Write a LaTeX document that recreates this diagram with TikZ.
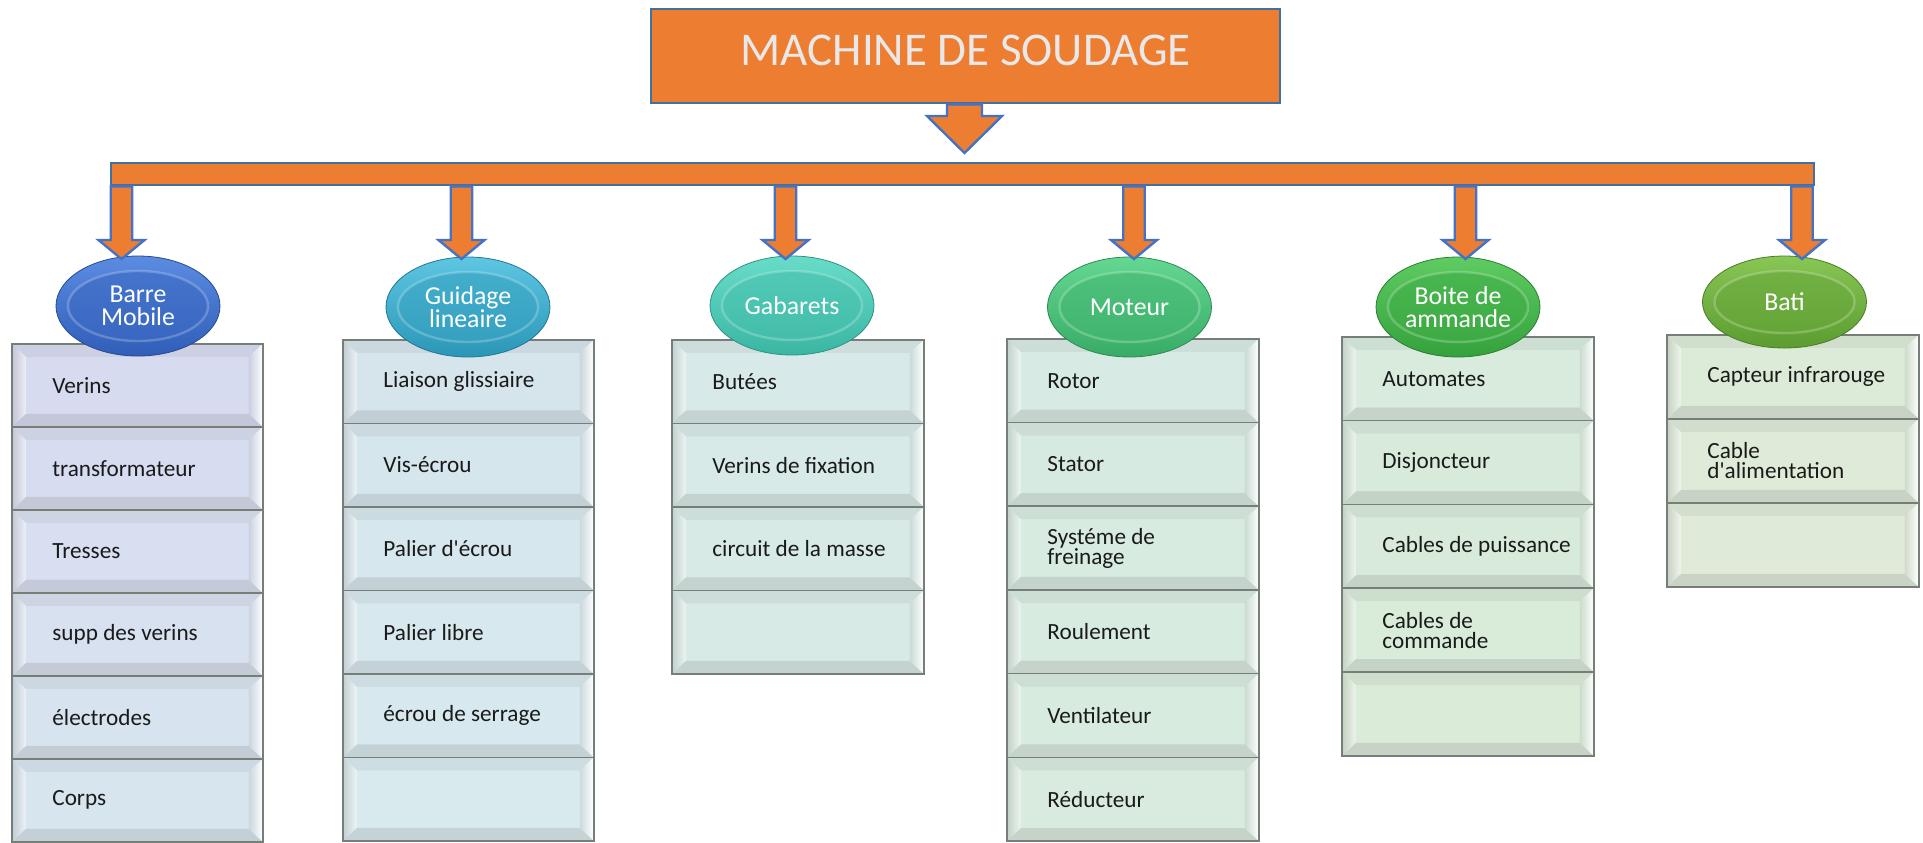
\documentclass[tikz,border=0pt]{standalone}
\usepackage{fontspec}
\setmainfont{Carlito}
\usetikzlibrary{shapes.geometric,calc}
\definecolor{orng}{HTML}{ED7D31}
\definecolor{oline}{HTML}{41719C}
\definecolor{aline}{HTML}{4472C4}
\definecolor{boxline}{HTML}{767E78}
\definecolor{titletext}{HTML}{E8E8E8}
\definecolor{itemc}{HTML}{1A1A1A}
\definecolor{rowc}{HTML}{D7DBF0}
\definecolor{bAt}{HTML}{5C8CE2}\definecolor{bAb}{HTML}{2F5DB8}
\definecolor{bBt}{HTML}{5EC6E3}\definecolor{bBb}{HTML}{2A96B6}
\definecolor{bCt}{HTML}{68DCC9}\definecolor{bCb}{HTML}{3AB6A3}
\definecolor{bDt}{HTML}{64D892}\definecolor{bDb}{HTML}{38AC66}
\definecolor{bEt}{HTML}{5ECC62}\definecolor{bEb}{HTML}{34A13C}
\definecolor{bFt}{HTML}{88C655}\definecolor{bFb}{HTML}{5C9C30}
\tikzset{
  rowbox/.style={rectangle, anchor=north west, inner sep=0pt, fill=rowc, draw=boxline, line width=0.8pt,
    path picture={
      \coordinate (pnw) at (path picture bounding box.north west);
      \coordinate (pne) at (path picture bounding box.north east);
      \coordinate (psw) at (path picture bounding box.south west);
      \coordinate (pse) at (path picture bounding box.south east);
      \fill[rowc!88!gray] (pnw) -- (pne) -- ([shift={(-7pt,-6.5pt)}]pne) -- ([shift={(7pt,-6.5pt)}]pnw) -- cycle;
      \fill[rowc!78!gray] (psw) -- (pse) -- ([shift={(-7pt,6.5pt)}]pse) -- ([shift={(7pt,6.5pt)}]psw) -- cycle;
      \shade[left color=rowc!75!gray, right color=white!50!rowc] (pnw) -- ([shift={(7pt,-6.5pt)}]pnw) -- ([shift={(7pt,6.5pt)}]psw) -- (psw) -- cycle;
      \shade[left color=rowc!85!gray, right color=white] (pne) -- ([shift={(-7pt,-6.5pt)}]pne) -- ([shift={(-7pt,6.5pt)}]pse) -- (pse) -- cycle;
    }},
  itemtext/.style={anchor=west, align=left, inner sep=0pt, text=itemc, font=\fontsize{11.6}{10}\selectfont},
  bubble/.style 2 args={ellipse, inner sep=0pt, top color=#1, bottom color=#2, draw=#2!80!black, line width=0.4pt,
    text=white, align=center, font=\fontsize{12.9}{11.3}\selectfont, minimum width=164*0.5pt,
    path picture={
      \draw[line width=1.2pt, draw=white, draw opacity=0.22, top color=#1!55!#2, bottom color=#2!85!#1]
        let \p1=($(path picture bounding box.north east)-(path picture bounding box.center)$) in
        (path picture bounding box.center) ellipse [x radius=\x1-6pt, y radius=\y1-7.5pt];
    }},
  fatarrow/.style={fill=orng, draw=aline, line width=1.2pt, line join=miter},
  orangebox/.style={fill=orng, draw=oline, line width=1.2pt, anchor=north west, inner sep=0pt, rectangle}
}
\newcommand\rowitem[7]{%
  \definecolor{rowc}{HTML}{#6}%
  \node[rowbox, minimum width=#4*0.5pt, minimum height=#5*0.5pt] (#1) at (#2,#3) {};
  \node[itemtext] (#1t) at ([xshift=20.5pt]#1.west) {#7};
}
\newcommand\brancharrow[1]{%
  \draw[fatarrow] (#1) -- ++(-23,-19) -- ++(12.25,0) -- ($(#1 |- bar.south)+(-10.75,0)$)
    -- ($(#1 |- bar.south)+(10.75,0)$) -- ($(#1)+(10.75,-19)$) -- ($(#1)+(23,-19)$) -- cycle;
}
\begin{document}
\begin{tikzpicture}[x=0.5pt,y=-0.5pt]
\fill[white] (0,0) rectangle (1923,842);
\useasboundingbox (0,0) rectangle (1923,842);

% column 1 : Barre Mobile
\rowitem{a1}{11}{343}{251}{83}{D7DBF0}{Verins}
\rowitem{a2}{11}{426}{251}{83}{D7DDF0}{transformateur}
\rowitem{a3}{11}{509}{251}{83}{D7DFF0}{Tresses}
\rowitem{a4}{11}{592}{251}{83}{D7E1F0}{supp des verins}
\rowitem{a5}{11}{675}{251}{83}{D7E3EF}{électrodes}
\rowitem{a6}{11}{758}{251}{83}{D7E5EF}{Corps}
% column 2 : Guidage lineaire
\rowitem{b1}{342}{339}{251}{83.5}{D6E4EC}{Liaison glissiaire}
\rowitem{b2}{342}{422.5}{251}{83.5}{D6E6ED}{Vis-écrou}
\rowitem{b3}{342}{506}{251}{83.5}{D6E7ED}{Palier d\textquotesingle écrou}
\rowitem{b4}{342}{589.5}{251}{83.5}{D7E8EE}{Palier libre}
\rowitem{b5}{342}{673}{251}{83.5}{D7E9EE}{écrou de serrage}
\rowitem{b6}{342}{756.5}{251}{83.5}{D8EAEE}{}
% column 3 : Gabarets
\rowitem{c1}{671}{339}{252}{83.5}{D7EAE9}{Butées}
\rowitem{c2}{671}{422.5}{252}{83.5}{D7EAE7}{Verins de fixation}
\rowitem{c3}{671}{506}{252}{83.5}{D7EAE6}{circuit de la masse}
\rowitem{c4}{671}{589.5}{252}{83.5}{D7EAE5}{}
% column 4 : Moteur
\rowitem{d1}{1006}{338}{252}{83.7}{D7EAE3}{Rotor}
\rowitem{d2}{1006}{421.7}{252}{83.7}{D7EAE2}{Stator}
\rowitem{d3}{1006}{505.4}{252}{83.7}{D7EBE1}{Systéme de\\freinage}
\rowitem{d4}{1006}{589.1}{252}{83.7}{D8EBE0}{Roulement}
\rowitem{d5}{1006}{672.8}{252}{83.7}{D8EBDF}{Ventilateur}
\rowitem{d6}{1006}{756.5}{252}{83.7}{D8EBDE}{Réducteur}
% column 5 : Boite de ammande
\rowitem{e1r}{1341}{336}{252}{83.8}{D8EBDD}{Automates}
\rowitem{e2r}{1341}{419.8}{252}{83.8}{D8EBDB}{Disjoncteur}
\rowitem{e3r}{1341}{503.6}{252}{83.8}{D8EBDA}{Cables de puissance}
\rowitem{e4r}{1341}{587.4}{252}{83.8}{D9EBD9}{Cables de\\commande}
\rowitem{e5r}{1341}{671.2}{252}{83.8}{DAEBD8}{}
% column 6 : Bati
\rowitem{f1}{1666}{334}{252}{84}{DCEBD8}{Capteur infrarouge}
\rowitem{f2}{1666}{418}{252}{84}{DDEBD8}{Cable\\d\textquotesingle alimentation}
\rowitem{f3}{1666}{502}{252}{84}{DFEBD8}{}

% category ellipses
\node[bubble={bAt}{bAb}, minimum height=100*0.5pt] (ba) at (138,306) {Barre\\Mobile};
\node[bubble={bBt}{bBb}, minimum height=100*0.5pt] (bb) at (468,307) {Guidage\\lineaire};
\node[bubble={bCt}{bCb}, minimum height=99*0.5pt] (bc) at (792,305.5) {Gabarets};
\node[bubble={bDt}{bDb}, minimum height=100*0.5pt] (bd) at (1129.5,307) {Moteur};
\node[bubble={bEt}{bEb}, minimum height=100*0.5pt] (be) at (1458,307) {Boite de\\ammande};
\node[bubble={bFt}{bFb}, minimum height=92*0.5pt] (bf) at (1784.5,302) {Bati};

% title, bar and arrows
\node[orangebox, minimum width=629*0.5pt, minimum height=94*0.5pt, text=titletext,
      font=\fontsize{23.5}{28}\selectfont, text depth=6pt] (title) at (650,8) {MACHINE DE SOUDAGE};
\node[orangebox, minimum width=1702.5*0.5pt, minimum height=22*0.5pt] (bar) at (110,162) {};
\coordinate (ttip) at (964.5,153);
\draw[fatarrow] (ttip) -- ++(-37.5,-37) -- ++(20,0) -- ($(ttip |- title.south)+(-17.5,0)$)
  -- ($(ttip |- title.south)+(17.5,0)$) -- ($(ttip)+(17.5,-37)$) -- ($(ttip)+(37.5,-37)$) -- cycle;
\coordinate (t1) at (121.5,259);
\coordinate (t2) at (461.5,259);
\coordinate (t3) at (785.5,259);
\coordinate (t4) at (1134,259);
\coordinate (t5) at (1465.5,259);
\coordinate (t6) at (1802,259);
\brancharrow{t1}
\brancharrow{t2}
\brancharrow{t3}
\brancharrow{t4}
\brancharrow{t5}
\brancharrow{t6}
\end{tikzpicture}
\end{document}
